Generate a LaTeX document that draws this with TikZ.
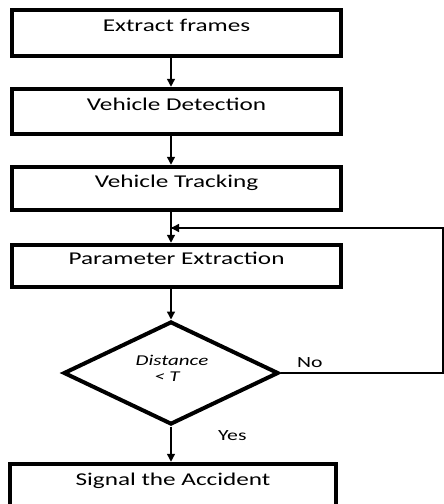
\documentclass[tikz,border=0pt]{standalone}
\usepackage{fontspec}
\setmainfont{Carlito}[FakeStretch=1.4]
\usetikzlibrary{shapes.geometric,arrows.meta}
\begin{document}
\begin{tikzpicture}[x=1pt,y=-1pt,
  stepbox/.style={draw, line width=4.5pt, minimum width=329pt, inner sep=0pt,
    font=\fontsize{18}{20}\selectfont, text height=11pt, text depth=14pt},
  decide/.style={draw, diamond, line width=4pt, inner sep=0pt, minimum width=215pt,
    minimum height=103pt},
  dtext/.style={font=\fontsize{15}{12}\selectfont\itshape, inner sep=0pt, anchor=base},
  flow/.style={line width=1.4pt, -{Triangle[length=8pt,width=8pt]}},
  plain/.style={line width=1.2pt},
  lbl/.style={font=\fontsize{15.5}{18}\selectfont, inner sep=0pt, anchor=base west}]
\useasboundingbox[fill=white] (0,0) rectangle (444,504);
\node[stepbox, minimum height=46pt] (b1) at (176.5,33) {Extract frames};
\node[stepbox, minimum height=45pt] (b2) at (176.5,111.5) {Vehicle Detection};
\node[stepbox, minimum height=43pt] (b3) at (176.5,188.5) {Vehicle Tracking};
\node[stepbox, minimum height=42pt] (b4) at (176.5,266) {Parameter Extraction};
\node[decide] (d) at (171,373) {};
\node[dtext, text depth=0pt] (dt1) at (172,365.5) {Distance};
\node[dtext, text height=8pt] (dt2) at (167,381) {\textless{} T};
\node[stepbox, minimum width=326pt, minimum height=46pt] (b5) at (173,487) {Signal the Accident};
\coordinate (r1) at (443,373);
\coordinate (r2) at (443,228);
\coordinate (m) at (171,228);
\draw[flow] (b1.south -| d.north) -- (b2.north -| d.north);
\draw[flow] (b2.south -| d.north) -- (b3.north -| d.north);
\draw[flow] (b3.south -| d.north) -- (b4.north -| d.north);
\draw[flow] (b4.south -| d.north) -- (d.north);
\draw[flow] (d.south) -- (b5.north -| d.south);
\draw[plain] (d.east) -- (r1) -- (r2) -- (m);
\draw[flow] (r2) -- (m);
\node[lbl] (no) at (297,367) {No};
\node[lbl] (yes) at (218,440) {Yes};
\end{tikzpicture}
\end{document}
